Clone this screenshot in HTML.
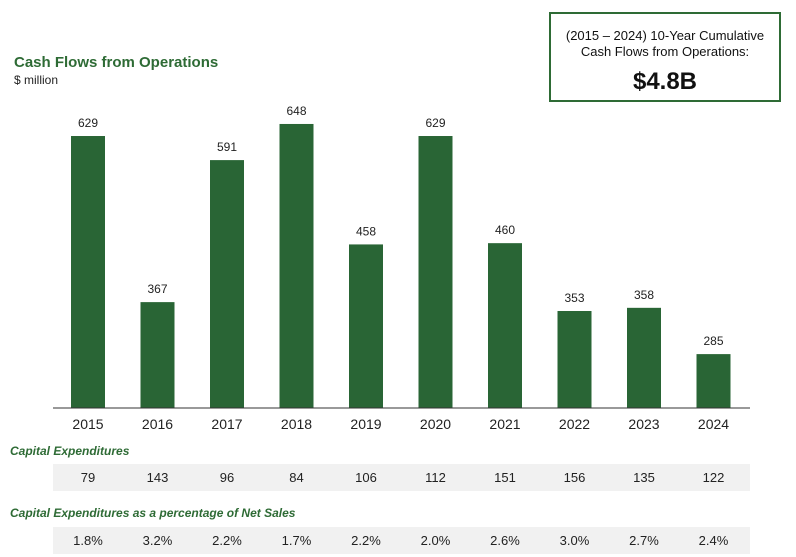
<!DOCTYPE html>
<html><head><meta charset="utf-8"><style>
body{margin:0;background:#fff;font-family:"Liberation Sans",Arial,sans-serif;}
#wrap{position:relative;width:796px;height:557px;overflow:hidden;}
.abs{position:absolute;}
</style></head><body>
<div id="wrap">
<div class="abs" style="left:14px;top:54px;font-size:15px;font-weight:bold;color:#2e6b35;">Cash Flows from Operations</div>
<div class="abs" style="left:14px;top:73px;font-size:12px;color:#222;">$ million</div>
<div class="abs" style="left:549px;top:12px;width:228px;height:86px;border:2.5px solid #2e6b35;text-align:center;color:#111;">
<div style="font-size:13px;line-height:16px;margin-top:14px;">(2015 – 2024) 10-Year Cumulative<br>Cash Flows from Operations:</div>
<div style="font-size:24px;font-weight:bold;margin-top:8px;">$4.8B</div>
</div>
<svg class="abs" style="left:0;top:0" width="796" height="557" id="svg"></svg>
</div>
<script>
const years=["2015","2016","2017","2018","2019","2020","2021","2022","2023","2024"];
const cfo=[629,367,591,648,458,629,460,353,358,285];
const capex=["79","143","96","84","106","112","151","156","135","122"];
const capexPct=["1.8%","3.2%","2.2%","1.7%","2.2%","2.0%","2.6%","3.0%","2.7%","2.4%"];
const svg=document.getElementById('svg');
const NS="http://www.w3.org/2000/svg";
const x=i=>88+i*69.5;
const y=v=>408-(v-200)*0.634;
function mk(tag,a,txt){const e=document.createElementNS(NS,tag);for(const k in a)e.setAttribute(k,a[k]);if(txt!=null)e.textContent=txt;svg.appendChild(e);return e;}
years.forEach((yr,i)=>{
 const b=mk('rect',{x:x(i)-17,y:y(cfo[i]),width:34,height:408-y(cfo[i]),fill:'#296535'});
 
 
 const l=mk('text',{x:x(i),y:y(cfo[i])-9,'text-anchor':'middle','font-size':12,fill:'#222'},cfo[i]);
 
 
 const t=mk('text',{x:x(i),y:429,'text-anchor':'middle','font-size':14,fill:'#222'},yr);
 
 
});
const ax=mk('line',{x1:53,x2:750,y1:408,y2:408,stroke:'#333','stroke-width':1});


const h1=mk('text',{x:10,y:455,'font-size':12,'font-weight':'bold','font-style':'italic',fill:'#2e6b35'},'Capital Expenditures');


const r1=mk('rect',{x:53,y:464,width:697,height:27,fill:'#f1f1f1'});


const h2=mk('text',{x:10,y:517,'font-size':12,'font-weight':'bold','font-style':'italic',fill:'#2e6b35'},'Capital Expenditures as a percentage of Net Sales');


const r2=mk('rect',{x:53,y:527,width:697,height:27,fill:'#f1f1f1'});


years.forEach((yr,i)=>{
 const a=mk('text',{x:x(i),y:482,'text-anchor':'middle','font-size':13,fill:'#222'},capex[i]);
 
 
 const b=mk('text',{x:x(i),y:545,'text-anchor':'middle','font-size':13,fill:'#222'},capexPct[i]);
 
 
});
</script>
</body></html>
